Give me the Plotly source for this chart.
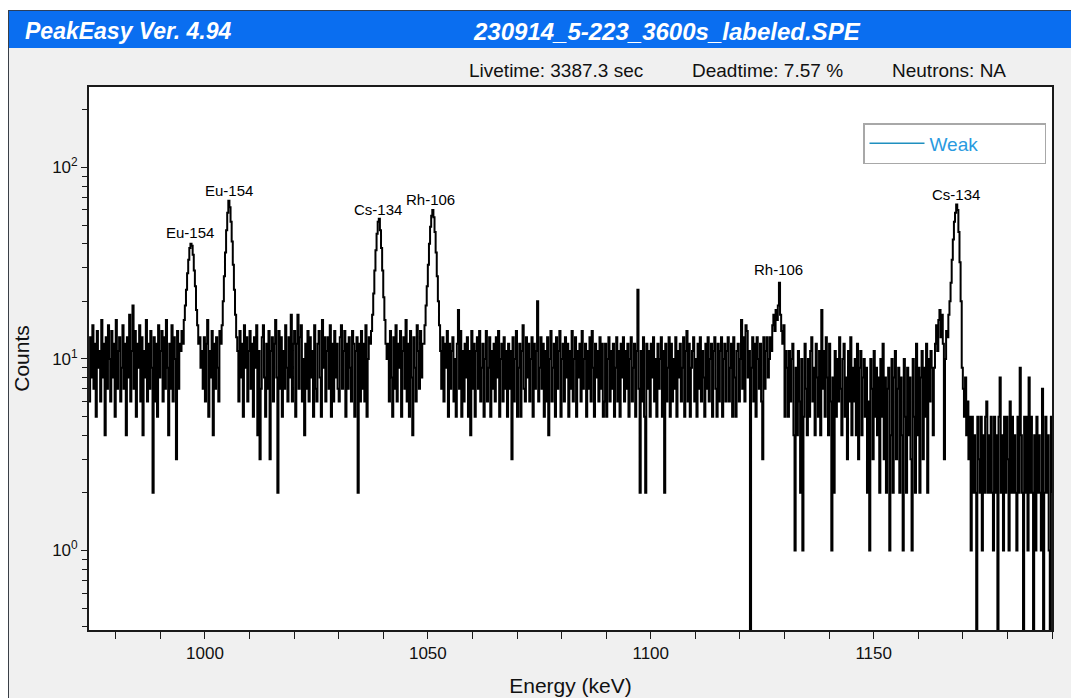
import numpy as np
import plotly.graph_objects as go

# ---------------- data (counts per 0.25 keV channel) ----------------
e_first_channel = 974.0
kev_per_channel = 0.25

bg_974_994 = [6,13,8,15,7,12,5,14,9,11, 6,16,8,12,4,13,7,15,10,6, 14,8,12,5,16,7,11,13,6,9,
              15,7,12,4,13,8,17,6,11,19, 7,14,5,12,9,15,6,13,4,11, 8,16,6,12,7,14,9,2,13,6,
              12,5,15,8,11,14,6,13,7,16, 9,4,12,7,15,6,13,10,3,14, 7,12]
peak_eu154_996 = [11,14,12,16,19,23,28,33,38,40, 39,35,29,24,18,15,12,13,9,11]
bg_999_1003 = [7,13,6,12,16,5,11,8,14,4,12,7,13,9,6,14]
peak_eu154_1005 = [12,15,20,27,36,47,58,67,62,52,41,31,23,17,13,11]
bg_1007_1036 = [6,14,8,12,5,15,9,13,6,11, 14,7,12,5,13,9,15,4,11,3, 7,13,15,8,5,12,7,14,3,11,
                13,6,12,16,8,2,14,7,13,5, 11,7,15,9,6,13,8,17,6,12, 14,5,12,17,7,13,15,6,10,4,
                12,7,14,6,13,8,11,5,15,7, 6,12,14,8,5,16,9,13,6,11, 13,7,15,5,12,6,14,8,12,7,
                6,13,15,7,11,14,5,12,7,13, 9,6,14,12,5,11,13,2,12,6, 14,7,12,6,15,5,10,13]
peak_cs134_1039 = [12,14,17,22,29,37,45,52,54,47,38,29,21,16,12,10]
bg_1041_1048 = [12,6,14,8,5,13,7,15,6,12,9,14,5,11,13,7,16,6,12,5,14,8,4,13,9,6,15,11,7,14,8,12]
peak_rh106_1051 = [12,15,19,24,31,40,49,56,60,55,46,36,27,20,15,11]
bg_1053_1089 = [7,13,6,12,9,14,5,12,7,11, 13,6,10,5,12,18,7,14,5,11, 6,12,8,13,5,11,4,14,7,12,
                5,11,13,7,14,6,9,12,5,10, 14,6,9,13,5,11,7,12,6,13, 8,14,5,10,12,6,13,7,11,5,
                12,7,11,3,13,6,10,14,5,9, 12,5,11,15,7,6,13,8,12,6, 10,13,5,12,7,11,20,6,9,13,
                7,12,5,11,6,13,4,10,14,6, 9,12,5,13,7,11,14,5,10,12, 6,13,8,12,5,11,7,14,6,10,
                13,5,11,8,12,6,14,7,10,12, 5,11,7,13,6,14,9,5,12,8, 11,6,13,7,12,5]
bg_1089_1126 = [6,12,5,10,13,6,11,7,12,5, 9,13,6,11,5,12,8,13,6,11, 7,12,5,10,13,6,9,12,5,11,
                23,7,2,11,6,13,5,2,12,7, 11,5,12,8,13,6,10,5,12,7, 10,13,5,11,2,12,6,9,13,5,
                12,6,10,7,13,5,11,8,12,6, 9,13,5,11,14,6,12,5,9,11, 13,6,10,5,12,7,13,6,11,8,
                5,12,7,13,6,10,12,5,11,13, 7,5,12,6,11,13,5,10,12,6, 11,13,6,9,12,5,13,8,5,11,
                12,6,10,16,7,13,6,15,14,8, 11,0,9,13,6,12,5,13,10,7, 12,6,3,13,7,11,13,8]
peak_rh106_1129 = [10,13,11,15,17,14,18,16,19,25,17,14,12,15,5,11]
bg_1130_1163 = [9,5,11,6,10,12,4,1,9,4, 11,6,2,10,1,5,12,7,4,10, 5,11,13,6,9,4,12,8,5,11,
                4,18,7,11,5,13,8,4,12,6, 1,8,2,11,5,10,6,13,7,4, 10,12,5,8,3,11,6,13,4,9,
                6,10,4,12,3,9,11,4,8,10, 5,9,2,6,1,10,7,3,11,5, 9,4,8,2,10,5,12,3,8,2,
                7,9,1,4,10,2,8,11,3,7, 9,2,8,4,1,10,5,2,9,4, 8,3,1,10,5,2,12,4,9,2,
                8,11,3,9,5,12,2,10,6,11,9,4]
peak_cs134_1168 = [9,12,15,11,16,18,13,17,12,3, 10,14,13,17,20,25,33,42,52,58,
                   64,60,46,32,20,9,7,5,8,4, 6,3]
bg_1171_1190 = [5,1,5,2,4,2,0,5,3,2, 5,1,4,2,5,6,2,4,2,5, 2,1,5,2,4,0,5,8,2,4,
                1,5,2,5,3,1,6,2,5,2, 4,2,1,5,2,9,4,2,0,5, 2,5,1,8,2,5,2,0,4,1,
                5,2,4,2,1,7,0,2,5,2, 4,1,0,5,2]

segments = [bg_974_994, peak_eu154_996, bg_999_1003, peak_eu154_1005, bg_1007_1036,
            peak_cs134_1039, bg_1041_1048, peak_rh106_1051, bg_1053_1089, bg_1089_1126,
            peak_rh106_1129, bg_1130_1163, peak_cs134_1168, bg_1171_1190]
counts = np.concatenate([np.array(s, dtype=float) for s in segments])
energy = e_first_channel + kev_per_channel * np.arange(len(counts))
# zero-count channels sit below the log axis floor
counts_plot = np.where(counts > 0, counts, 0.05)

peak_labels = ["Eu-154", "Eu-154", "Cs-134", "Rh-106", "Rh-106", "Cs-134"]
peak_label_energy = [996.6, 1005.3, 1038.9, 1050.7, 1128.6, 1168.5]
peak_label_counts = [45.8, 75.6, 60.0, 68.1, 29.2, 72.0]

x_ticks = [1000, 1050, 1100, 1150]
y_ticks = [1, 10, 100]
y_ticktext = ["10<sup>0</sup>", "10<sup>1</sup>", "10<sup>2</sup>"]

program_title = "PeakEasy Ver. 4.94"
file_title = "230914_5-223_3600s_labeled.SPE"
info_texts = ["Livetime: 3387.3 sec", "Deadtime: 7.57 %", "Neutrons: NA"]
legend_name = "Weak"

# ---------------- figure ----------------
W, H = 1071, 698
FONT = "Liberation Sans, Arial, sans-serif"

def px(x):
    return x / W

def py(y):
    return 1 - y / H

fig = go.Figure()
fig.add_trace(go.Scatter(
    x=energy, y=counts_plot, mode="lines",
    line=dict(color="black", width=2.0, shape="hv", simplify=False),
    showlegend=False, hoverinfo="x+y", name="spectrum",
))
fig.add_trace(go.Scatter(
    x=[None], y=[None], mode="lines", name=legend_name,
    line=dict(color="#1f8fbf", width=1.5), showlegend=True,
))

ann = []
for lab, ex, cy in zip(peak_labels, peak_label_energy, peak_label_counts):
    ann.append(dict(x=ex, y=np.log10(cy), xref="x", yref="y", text=lab, showarrow=False,
                    font=dict(family=FONT, size=15, color="black"),
                    xanchor="center", yanchor="middle"))

ann.append(dict(x=px(23), y=py(31), xref="paper", yref="paper", text="<b><i>%s</i></b>" % program_title,
                showarrow=False, xanchor="left", yanchor="middle",
                font=dict(family=FONT, size=23, color="white")))
ann.append(dict(x=px(667), y=py(31), xref="paper", yref="paper", text="<b><i>%s</i></b>" % file_title,
                showarrow=False, xanchor="center", yanchor="middle",
                font=dict(family=FONT, size=24, color="white")))
for t, xl in zip(info_texts, [467, 690, 890]):
    ann.append(dict(x=px(xl), y=py(70), xref="paper", yref="paper", text=t, showarrow=False,
                    xanchor="left", yanchor="middle", font=dict(family=FONT, size=19, color="#111111")))

shapes = [
    dict(type="rect", xref="paper", yref="paper", x0=0, x1=px(8), y0=0, y1=1,
         fillcolor="white", line=dict(width=0)),
    dict(type="rect", xref="paper", yref="paper", x0=0, x1=1, y0=py(10), y1=1,
         fillcolor="white", line=dict(width=0)),
    dict(type="rect", xref="paper", yref="paper", x0=px(8), x1=1, y0=py(48), y1=py(10),
         fillcolor="#0a6ef0", line=dict(width=0)),
    dict(type="line", xref="paper", yref="paper", x0=px(8), x1=1, y0=py(10.5), y1=py(10.5),
         line=dict(color="#2b3f5c", width=1)),
    dict(type="line", xref="paper", yref="paper", x0=px(8.5), x1=px(8.5), y0=0, y1=py(10),
         line=dict(color="#3a3f47", width=1)),
]

axis_common = dict(showgrid=False, zeroline=False, showline=True, linecolor="#1a1a1a",
                   linewidth=1.8, mirror=True, ticks="outside", tickcolor="#1a1a1a",
                   tickwidth=1.4, tickfont=dict(family=FONT, size=17, color="#111111"))

fig.update_layout(
    width=W, height=H, margin=dict(l=0, r=0, t=0, b=0, autoexpand=False),
    paper_bgcolor="#f0f0f0", plot_bgcolor="white",
    shapes=shapes, annotations=ann,
    xaxis=dict(domain=[px(89), px(1052)], range=[974.0, 1190.0], tickvals=x_ticks,
               ticklen=7, minor=dict(dtick=10, tick0=1000, ticks="outside", ticklen=7,
                                     tickcolor="#1a1a1a", tickwidth=1.4),
               title=dict(text="Energy (keV)",
                          font=dict(family=FONT, size=21, color="#111111"), standoff=16),
               automargin=True, **axis_common),
    yaxis=dict(domain=[py(630), py(87)], type="log", range=[-0.415, 2.420],
               tickvals=y_ticks, ticktext=y_ticktext, ticklen=6,
               minor=dict(dtick="D1", ticks="outside", ticklen=5, tickcolor="#1a1a1a", tickwidth=1.4),
               title=dict(text="Counts", font=dict(family=FONT, size=21, color="#111111"), standoff=17),
               automargin=True, **axis_common),
    legend=dict(x=px(863), y=py(123), xanchor="left", yanchor="top", orientation="h",
                bgcolor="white", bordercolor="#a8a8a8", borderwidth=1.5,
                font=dict(family=FONT, size=19, color="#2a9ae0"),
                itemwidth=55, entrywidth=110, entrywidthmode="pixels",
                tracegroupgap=0),
    showlegend=True,
)

fig.write_html("out.html")
